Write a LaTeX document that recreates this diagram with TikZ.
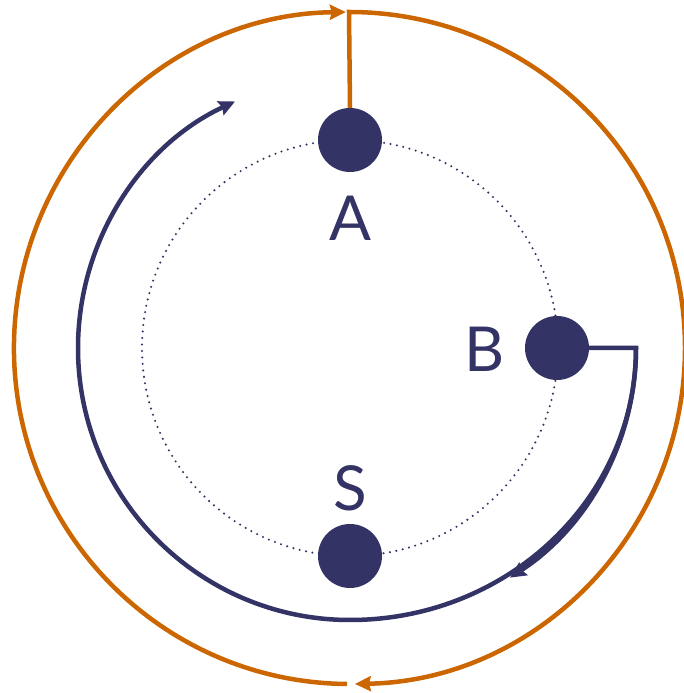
\documentclass[tikz,border=0pt]{standalone}
\usepackage{fontspec}
\setmainfont{Lato}
\usetikzlibrary{arrows.meta}
\definecolor{navy}{RGB}{51,51,102}
\definecolor{ornge}{RGB}{204,102,0}
\begin{document}
\begin{tikzpicture}[x=1pt,y=1pt,
  dot/.style={circle,fill=navy,draw=none,minimum size=64pt,inner sep=0pt},
  lbl/.style={text=navy,inner sep=0pt,font=\fontsize{62}{62}\selectfont},
  oline/.style={draw=ornge,line width=4.5pt},
  nline/.style={draw=navy,line width=4.5pt},
  tip/.style={-{Stealth[length=16pt,width=15pt,inset=2pt]}}]
\useasboundingbox (0,0) rectangle (683,693);
\coordinate (C) at (350,345);
\draw[navy,line width=2.3pt,dash pattern=on 0pt off 6.5pt,line cap=round] (C) circle[radius=208];
\node[dot] (A) at (350,553) {};
\node[dot] (B) at (557,345) {};
\node[dot] (S) at (350,137) {};
\node[lbl] (la) at (350,475) {A};
\node[lbl] (lb) at (485,344) {B};
\node[lbl] (ls) at (350,205) {S};
% orange
\coordinate (top) at (349,681);
\coordinate (bot) at (347,9);
\draw[oline,tip] (A.north) -- (top) arc[start angle=90,end angle=-89,radius=336];
\draw[oline,tip] (bot) arc[start angle=-90.5,end angle=-269.3,radius=336];
% navy
\coordinate (bk) at (636,345);
\draw[nline,tip] (B.east) -- (bk) arc[start angle=0,end angle=-56,x radius=286,y radius=277];
\draw[nline,tip] (bk) arc[start angle=0,end angle=-90,x radius=286,y radius=272]
  arc[start angle=-90,end angle=-245,radius=272];
\end{tikzpicture}
\end{document}
